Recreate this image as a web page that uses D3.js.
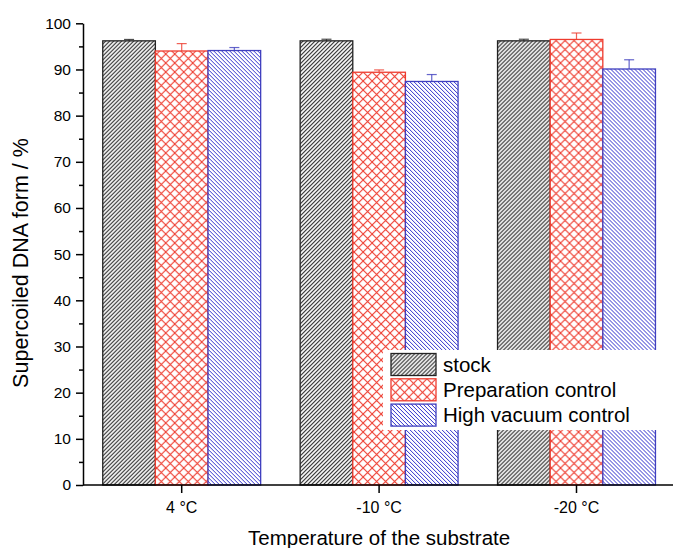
<!DOCTYPE html>
<html>
<head>
<meta charset="utf-8">
<script src="https://cdn.jsdelivr.net/npm/d3@7"></script>
<style>
  html, body { margin: 0; padding: 0; background: #fff; overflow: hidden; }
  svg { display: block; font-family: "Liberation Sans", Arial, sans-serif; }
</style>
</head>
<body>
<div id="chart"></div>
<script>
// values
const categories = ['4 °C', '-10 °C', '-20 °C'];
const seriesNames = ['stock', 'Preparation control', 'High vacuum control'];
const stockValues = [96.2, 96.2, 96.2];
const stockErrors = [0.3, 0.35, 0.35];
const prepValues = [94.0, 89.4, 96.5];
const prepErrors = [1.6, 0.5, 1.4];
const vacuumValues = [94.1, 87.4, 90.1];
const vacuumErrors = [0.65, 1.5, 2.0];
const yTicks = [0, 10, 20, 30, 40, 50, 60, 70, 80, 90, 100];

const series = [
    {name: seriesNames[0], values: stockValues, errors: stockErrors, color: '#222222', pattern: 'hatch-stock'},
    {name: seriesNames[1], values: prepValues, errors: prepErrors, color: '#ee3b2e', pattern: 'hatch-prep'},
    {name: seriesNames[2], values: vacuumValues, errors: vacuumErrors, color: '#3f3fbf', pattern: 'hatch-vacuum'}
];

const width = 673, height = 548;
const x0 = 83, yBottom = 485, yTop = 23.3;

const svg = d3.select('#chart').append('svg')
    .attr('width', width)
    .attr('height', height);

// hatch patterns
const defs = svg.append('defs');

const pStock = defs.append('pattern')
    .attr('id', 'hatch-stock')
    .attr('patternUnits', 'userSpaceOnUse')
    .attr('width', 4).attr('height', 4);
pStock.append('rect').attr('width', 4).attr('height', 4).attr('fill', '#fff');
pStock.append('path')
    .attr('d', 'M-1,1 l2,-2 M0,4 l4,-4 M3,5 l2,-2')
    .attr('stroke', '#222').attr('stroke-width', 1.1);

const pVac = defs.append('pattern')
    .attr('id', 'hatch-vacuum')
    .attr('patternUnits', 'userSpaceOnUse')
    .attr('width', 4).attr('height', 4);
pVac.append('rect').attr('width', 4).attr('height', 4).attr('fill', '#fff');
pVac.append('path')
    .attr('d', 'M-1,3 l2,2 M0,0 l4,4 M3,-1 l2,2')
    .attr('stroke', '#3030cc').attr('stroke-width', 1);

const pPrep = defs.append('pattern')
    .attr('id', 'hatch-prep')
    .attr('patternUnits', 'userSpaceOnUse')
    .attr('width', 9).attr('height', 9);
pPrep.append('rect').attr('width', 9).attr('height', 9).attr('fill', '#fff');
pPrep.append('path')
    .attr('d', 'M0,0 L9,9 M9,0 L0,9')
    .attr('stroke', '#ee3b2e').attr('stroke-width', 1.1);

// scales
const x = d3.scaleBand()
    .domain(categories)
    .range([x0, 675.2])
    .paddingInner(0.2)
    .paddingOuter(0.1);

const xSub = d3.scaleBand()
    .domain(seriesNames)
    .range([0, x.bandwidth()]);

const y = d3.scaleLinear()
    .domain([0, 100])
    .range([yBottom, yTop]);

// bars
const groups = svg.selectAll('.group')
    .data(categories)
    .join('g')
    .attr('class', 'group')
    .attr('transform', d => `translate(${x(d)},0)`);

series.forEach(s => {
    groups.append('rect')
        .attr('x', xSub(s.name))
        .attr('y', (d, i) => y(s.values[i]))
        .attr('width', xSub.bandwidth())
        .attr('height', (d, i) => y(0) - y(s.values[i]))
        .attr('fill', `url(#${s.pattern})`)
        .attr('stroke', s.color)
        .attr('stroke-width', 1.3);

    // error bars, upper half only
    const cx = xSub(s.name) + xSub.bandwidth() / 2;
    groups.append('line')
        .attr('x1', cx).attr('x2', cx)
        .attr('y1', (d, i) => y(s.values[i]))
        .attr('y2', (d, i) => y(s.values[i] + s.errors[i]))
        .attr('stroke', s.color).attr('stroke-width', 1.2).attr('opacity', 0.8);
    groups.append('line')
        .attr('x1', cx - 5).attr('x2', cx + 5)
        .attr('y1', (d, i) => y(s.values[i] + s.errors[i]))
        .attr('y2', (d, i) => y(s.values[i] + s.errors[i]))
        .attr('stroke', s.color).attr('stroke-width', 1.2).attr('opacity', 0.8);
});

// y axis
const yAxis = svg.append('g')
    .attr('transform', `translate(${x0},0)`)
    .call(d3.axisLeft(y).tickValues(yTicks).tickSize(7).tickSizeOuter(0).tickPadding(5));
yAxis.selectAll('text').attr('font-size', 15.5).attr('fill', '#000').attr('font-family', 'Liberation Sans, Arial, sans-serif');

svg.append('g')
    .attr('transform', `translate(${x0},0)`)
    .call(d3.axisLeft(y).tickValues(d3.range(5, 100, 10)).tickSize(4).tickSizeOuter(0).tickFormat(''))
    .select('.domain').remove();

svg.selectAll('.tick line, .domain').attr('stroke', '#000').attr('stroke-width', 1.5);

// x axis
svg.append('line')
    .attr('x1', x0).attr('x2', width)
    .attr('y1', yBottom).attr('y2', yBottom)
    .attr('stroke', '#000').attr('stroke-width', 1.5);

const xTicks = svg.selectAll('.xtick')
    .data(categories)
    .join('g')
    .attr('class', 'xtick')
    .attr('transform', d => `translate(${x(d) + x.bandwidth() / 2},${yBottom})`);
xTicks.append('line').attr('y2', 8).attr('stroke', '#000').attr('stroke-width', 1.5);
xTicks.append('text')
    .attr('y', 28)
    .attr('text-anchor', 'middle')
    .attr('font-size', 16)
    .text(d => d);

// axis titles
svg.append('text')
    .attr('x', x(categories[1]) + x.bandwidth() / 2).attr('y', 545)
    .attr('text-anchor', 'middle')
    .attr('font-size', 20.5)
    .text('Temperature of the substrate');

svg.append('text')
    .attr('transform', `translate(28,263) rotate(-90)`)
    .attr('text-anchor', 'middle')
    .attr('font-size', 21.5)
    .text('Supercoiled DNA form / %');

// legend
const legend = svg.append('g').attr('transform', 'translate(383,350)');
legend.append('rect')
    .attr('width', 287).attr('height', 80)
    .attr('fill', '#fff');
const items = legend.selectAll('.item')
    .data(series)
    .join('g')
    .attr('class', 'item')
    .attr('transform', (d, i) => `translate(8,${3.5 + i * 25.3})`);
items.append('rect')
    .attr('width', 45).attr('height', 22)
    .attr('fill', d => `url(#${d.pattern})`)
    .attr('stroke', d => d.color)
    .attr('stroke-width', 1.3);
items.append('text')
    .attr('x', 52).attr('y', 18)
    .attr('font-size', 20.5)
    .text(d => d.name);
</script>
</body>
</html>
